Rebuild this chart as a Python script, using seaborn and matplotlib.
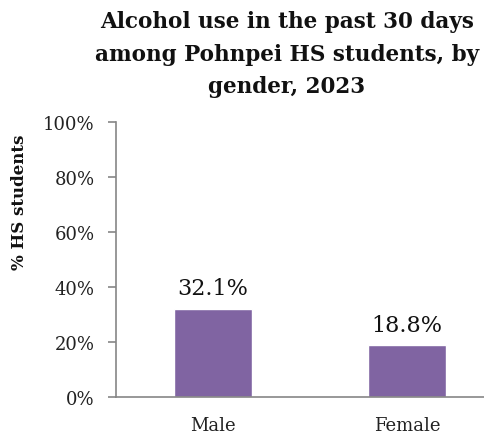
import matplotlib
matplotlib.use("Agg")
import matplotlib.pyplot as plt
import seaborn as sns
import pandas as pd
from matplotlib.ticker import FixedLocator

categories = ["Male", "Female"]
values = [32.1, 18.8]
value_labels = ["32.1%", "18.8%"]
yticks = [0, 20, 40, 60, 80, 100]
ytick_labels = ["0%", "20%", "40%", "60%", "80%", "100%"]
title = "Alcohol use in the past 30 days\namong Pohnpei HS students, by\ngender, 2023"
ylabel = "% HS students"

sns.set_style("white")
plt.rcParams["font.family"] = ["DejaVu Serif"]

df = pd.DataFrame({"gender": categories, "pct": values})

W, H = 485, 439
fig = plt.figure(figsize=(W / 100, H / 100), dpi=100)
ax_left, ax_right = 116, 504
ax_top, ax_bot = 123, 398
ax = fig.add_axes([ax_left / W, 1 - ax_bot / H, (ax_right - ax_left) / W, (ax_bot - ax_top) / H])

sns.barplot(data=df, x="gender", y="pct", color="#8064A2", width=0.4, saturation=1, ax=ax)

ax.set_xlim(-0.5, 1.5)
ax.set_ylim(0, 100)
ax.set_yticks(yticks)
ax.set_yticklabels(ytick_labels, fontsize=13, color="#222222")
ax.set_xticks([0, 1])
ax.set_xticklabels(categories, fontsize=13, color="#222222")
ax.xaxis.set_minor_locator(FixedLocator([-0.5, 0.5, 1.5]))
ax.tick_params(axis="x", which="major", length=0, pad=14)
ax.tick_params(axis="x", which="minor", length=6, width=1.2, color="#868686", direction="out")
ax.tick_params(axis="y", length=6, width=1.2, color="#868686", direction="out", pad=9.5, left=True)
ax.set_xlabel("")
ax.set_ylabel("")

for s in ["top", "right"]:
    ax.spines[s].set_visible(False)
for s in ["left", "bottom"]:
    ax.spines[s].set_color("#868686")
    ax.spines[s].set_linewidth(1.2)

for i, (v, lab) in enumerate(zip(values, value_labels)):
    ax.annotate(lab, (i, v), xytext=(0, 7), textcoords="offset points",
                ha="center", va="bottom", fontsize=16, color="#111111")

fig.text(287 / W, 1 - 11 / H, title, ha="center", va="top", fontsize=15.5,
         fontweight="bold", linespacing=1.62, color="#111111")
fig.text(20 / W, 1 - 202 / H, ylabel, ha="center", va="center", rotation=90,
         fontsize=12, fontweight="bold", color="#111111")

fig.savefig("out.png", dpi=100)
